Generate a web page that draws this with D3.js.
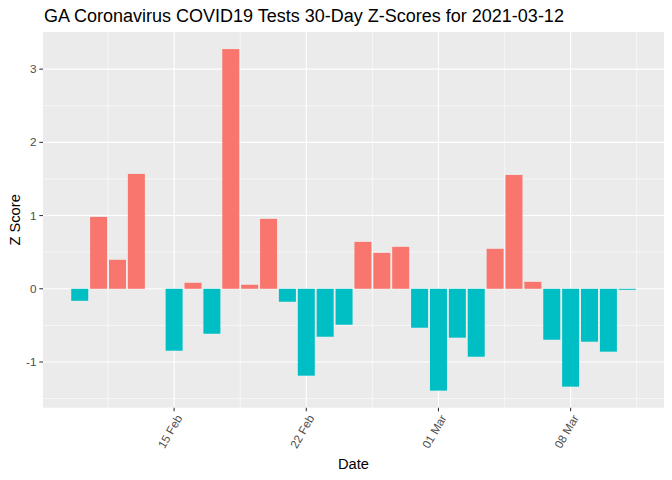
<!DOCTYPE html>
<html>
<head>
<meta charset="utf-8">
<script src="https://cdn.jsdelivr.net/npm/d3@7"></script>
<style>
  body { margin: 0; background: #ffffff; }
  svg { display: block; font-family: "Liberation Sans", Arial, sans-serif; }
</style>
</head>
<body>
<svg id="chart" width="672" height="480"></svg>
<script>
// ---- data ----
const startDate = "2021-02-10";
const zScores = [-0.164, 0.982, 0.396, 1.569, 0, -0.846, 0.082, -0.614, 3.274, 0.055,
                 0.955, -0.177, -1.187, -0.655, -0.491, 0.641, 0.491, 0.573, -0.532, -1.391,
                 -0.668, -0.928, 0.546, 1.555, 0.095, -0.696, -1.337, -0.723, -0.859, -0.014];
const xTickLabels = ["15 Feb", "22 Feb", "01 Mar", "08 Mar"];
const xTickDates = ["2021-02-15", "2021-02-22", "2021-03-01", "2021-03-08"];
const yTicks = [-1, 0, 1, 2, 3];
const yMinorTicks = [-1.5, -0.5, 0.5, 1.5, 2.5];
const titleText = "GA Coronavirus COVID19 Tests 30-Day Z-Scores for 2021-03-12";

// ---- build ----
const DAY = 86400000;
const parse = d3.utcParse("%Y-%m-%d");
const t0 = parse(startDate);
const data = zScores.map((v, i) => ({ date: new Date(t0.getTime() + i * DAY), value: v }));

const W = 672, H = 480;
const margin = { left: 43, right: 8, top: 32, bottom: 72.3 };
const pw = W - margin.left - margin.right;
const ph = H - margin.top - margin.bottom;

const halfBar = 0.45 * DAY;
let xmin = d3.min(data, d => d.date.getTime()) - halfBar;
let xmax = d3.max(data, d => d.date.getTime()) + halfBar;
const xpad = 0.05 * (xmax - xmin);
const x = d3.scaleUtc().domain([new Date(xmin - xpad), new Date(xmax + xpad)]).range([0, pw]);

let ymin = d3.min(zScores), ymax = d3.max(zScores);
const ypad = 0.05 * (ymax - ymin);
const y = d3.scaleLinear().domain([ymin - ypad, ymax + ypad]).range([ph, 0]);

const svg = d3.select("#chart");
svg.append("rect").attr("width", W).attr("height", H).attr("fill", "#ffffff");

const g = svg.append("g").attr("transform", `translate(${margin.left},${margin.top})`);
g.append("rect").attr("width", pw).attr("height", ph).attr("fill", "#EBEBEB");

const majorX = xTickDates.map(parse);
const minorX = [];
const step = 7 * DAY;
for (let t = majorX[0].getTime() - step / 2; t <= x.domain()[1].getTime(); t += step) {
  if (t >= x.domain()[0].getTime()) minorX.push(new Date(t));
}

// minor grid
g.selectAll(".ymin").data(yMinorTicks).enter().append("line")
  .attr("x1", 0).attr("x2", pw).attr("y1", d => y(d)).attr("y2", d => y(d))
  .attr("stroke", "#ffffff").attr("stroke-width", 0.55);
g.selectAll(".xmin").data(minorX).enter().append("line")
  .attr("y1", 0).attr("y2", ph).attr("x1", d => x(d)).attr("x2", d => x(d))
  .attr("stroke", "#ffffff").attr("stroke-width", 0.55);
// major grid
g.selectAll(".ymaj").data(yTicks).enter().append("line")
  .attr("x1", 0).attr("x2", pw).attr("y1", d => y(d)).attr("y2", d => y(d))
  .attr("stroke", "#ffffff").attr("stroke-width", 1.1);
g.selectAll(".xmaj").data(majorX).enter().append("line")
  .attr("y1", 0).attr("y2", ph).attr("x1", d => x(d)).attr("x2", d => x(d))
  .attr("stroke", "#ffffff").attr("stroke-width", 1.1);

// bars
g.selectAll(".bar").data(data.filter(d => d.value !== 0)).enter().append("rect")
  .attr("x", d => x(new Date(d.date.getTime() - halfBar)))
  .attr("width", d => x(new Date(d.date.getTime() + halfBar)) - x(new Date(d.date.getTime() - halfBar)))
  .attr("y", d => y(Math.max(0, d.value)))
  .attr("height", d => Math.abs(y(d.value) - y(0)))
  .attr("fill", d => d.value > 0 ? "#F8766D" : "#00BFC4");

// y axis
const yAxis = g.append("g");
yAxis.selectAll("line").data(yTicks).enter().append("line")
  .attr("x1", -3.67).attr("x2", 0).attr("y1", d => y(d)).attr("y2", d => y(d))
  .attr("stroke", "#333333").attr("stroke-width", 1.07);
yAxis.selectAll("text").data(yTicks).enter().append("text")
  .attr("x", -6.6).attr("y", d => y(d)).attr("dy", "0.35em")
  .attr("text-anchor", "end").attr("font-size", "11.7px").attr("fill", "#4D4D4D")
  .text(d => d3.format("d")(d).replace("−", "-"));

// x axis
const xAxis = g.append("g").attr("transform", `translate(0,${ph})`);
xAxis.selectAll("line").data(majorX).enter().append("line")
  .attr("x1", d => x(d)).attr("x2", d => x(d)).attr("y1", 0).attr("y2", 3.67)
  .attr("stroke", "#333333").attr("stroke-width", 1.07);
xAxis.selectAll("text").data(majorX).enter().append("text")
  .attr("transform", d => `translate(${x(d) + 5},${8}) rotate(-60)`)
  .attr("text-anchor", "end").attr("dy", "0.35em")
  .attr("font-size", "11.7px").attr("fill", "#4D4D4D")
  .text((d, i) => xTickLabels[i]);

// titles
svg.append("text").attr("x", margin.left + pw / 2).attr("y", 469)
  .attr("text-anchor", "middle").attr("font-size", "14.67px").attr("fill", "#000000").text("Date");
svg.append("text").attr("transform", `translate(19.5,${margin.top + ph / 2}) rotate(-90)`)
  .attr("text-anchor", "middle").attr("font-size", "14.67px").attr("fill", "#000000").text("Z Score");
svg.append("text").attr("x", 44).attr("y", 22)
  .attr("font-size", "18px").attr("fill", "#000000").text(titleText);
</script>
</body>
</html>
